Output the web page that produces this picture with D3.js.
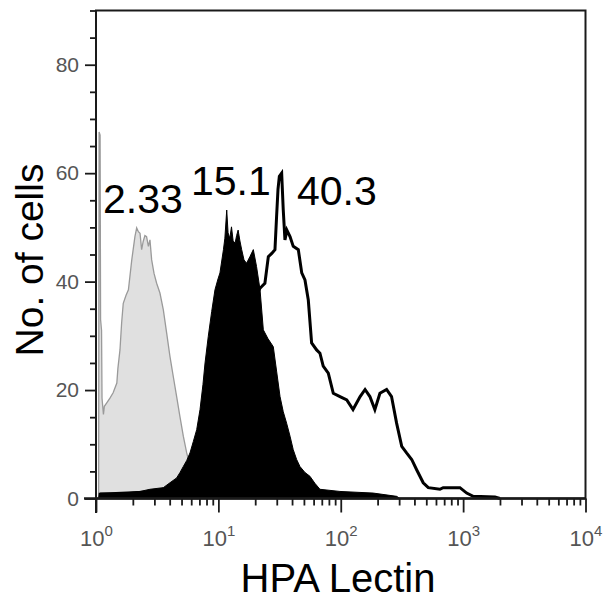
<!DOCTYPE html>
<html><head><meta charset="utf-8">
<script src="https://cdn.jsdelivr.net/npm/d3@7"></script>
<style>body{margin:0;background:#fff}svg{display:block}</style>
</head><body><svg id="c" width="610" height="601"></svg>
<script>
// Isotype control (grey, MFI 2.33)
const controlIntensity = [1.05,1.06,1.08,1.09,1.11,1.12,1.15,1.17,1.22,1.30,1.38,1.48,1.51,1.57,1.62,1.67,1.76,1.84,1.96,2.08,2.15,2.22,2.29,2.36,2.43,2.51,2.59,2.68,2.76,2.85,2.98,3.13,3.33,3.55,3.78,4.02,4.28,4.56,4.86,5.17,5.51,5.86,6.44,7.08,8.5,10.9,18.1,46.4,288,303];
const controlCount     = [0,67.6,67,33,31,18.5,15.5,17,17.6,18.5,19.5,21.3,24,27.4,32.4,36.0,37.5,38.5,44.0,48.3,49.9,49.2,48.9,45.9,47.4,48.5,48.3,46.5,47.7,44.0,41.5,39.7,37.9,34.8,30.5,26.2,22.5,18.8,15,11.5,8.4,6,3.5,2,1,0.6,0.4,0.4,0.3,0];
// Filled black histogram (MFI 15.1)
const lowIntensity = [1.07,1.08,1.67,2.29,2.76,3.55,4.02,4.56,4.86,5.17,5.51,5.86,6.24,6.65,7.08,7.48,7.78,8.27,8.82,9.38,9.93,10.3,11.0,11.3,11.7,12.0,12.4,12.8,13.2,13.7,14.1,14.5,15.0,15.5,16.2,17.0,18.1,19.3,20.5,21.9,23.3,25.4,28.1,29.9,31.9,33.9,36.1,38.5,40.9,43.6,46.4,51.0,56.0,61.5,67.6,98.5,184,286,303];
const lowCount     = [0,1.0,1.0,1.3,1.7,2.0,2.9,3.8,4.8,5.9,7,8.4,10.5,12.7,16.4,21,25.0,29.9,34.5,38.5,40.5,41.6,45.9,48,53.2,49,48,50.1,47.5,47.1,48.5,49.5,47.5,45.9,44,43.4,44.6,45.9,42.8,38.5,31.1,29.5,28.0,23.5,18.8,16,13.9,11.5,9.0,7.2,5.9,4.8,4.1,2.8,1.7,1.3,1.0,0.4,0];
// Open outline histogram (MFI 40.3)
const highIntensity = [1.07,1.08,2.76,4.02,5.86,7.08,8.5,10.3,12.4,15.0,18.1,20.5,21.9,22.6,24.0,25.6,27.3,29.0,29.9,30.7,31.5,32.9,33.9,35.0,36.3,38.5,40.9,45.0,48.0,51.0,54.3,57.8,63.5,67.6,71.9,79.1,86.9,98.5,112,126,144,158,173,190,209,237,260,286,315,345,380,417,472,519,646,687,942,1069,1208,1820,2000];
const highCount     = [0,0.8,1.2,2.0,4,6,9,14,20,27,34,37.5,38.8,39.1,39.7,44.6,45.2,45.9,52.0,57,59.4,60.0,53.2,47.7,49.5,48.3,46.5,45.9,41.6,40.3,36.6,28.7,27.4,26.8,24.4,23.1,19.4,18.8,18.2,16.4,18.8,20.1,18.8,16.4,19.4,20.1,18.8,13.9,9.6,8.4,7.2,5.3,2.9,2.0,1.7,2.0,2.0,1.0,0.4,0.3,0];

const yMajorTicks = [0,20,40,60,80];
const yMinorTicks = [5,10,15,25,30,35,45,50,55,65,70,75,85,90];
const xMajorExponents = [0,1,2,3,4];
const annotations = ["2.33","15.1","40.3"];
const xTitle = "HPA Lectin";
const yTitle = "No. of cells";

const svg = d3.select("#c");
const x = d3.scaleLog().domain([1,10000]).range([96,585.5]);
const y = d3.scaleLinear().domain([0,90]).range([498.5,10.5]);

const xMinor = [];
for (let e=0;e<4;e++) for (let m=2;m<=9;m++) xMinor.push(m*Math.pow(10,e));
const xMajor = xMajorExponents.map(e=>Math.pow(10,e));

const area = d3.area().x(d=>x(d[0])).y0(y(0)).y1(d=>y(d[1]));
const line = d3.line().x(d=>x(d[0])).y(d=>y(d[1]));
const zip = (a,b)=>a.map((v,i)=>[v,b[i]]);

const plot = svg.append("g");
plot.append("path").datum(zip(controlIntensity,controlCount))
  .attr("d",area).attr("fill","#e0e0e0").attr("stroke","#9a9a9a").attr("stroke-width",1.3);
plot.append("path").datum(zip(highIntensity,highCount))
  .attr("d",line).attr("fill","none").attr("stroke","#000").attr("stroke-width",3).attr("stroke-linejoin","miter");
plot.append("path").datum(zip(lowIntensity,lowCount))
  .attr("d",area).attr("fill","#000").attr("stroke","#000").attr("stroke-width",1);

// frame
svg.append("rect").attr("x",x(1)).attr("y",y(90)).attr("width",x(10000)-x(1)).attr("height",y(0)-y(90))
  .attr("fill","none").attr("stroke","#1a1a1a").attr("stroke-width",2);

const tickColor = "#1a1a1a";
const font = "Liberation Sans, Arial, Helvetica, sans-serif";
// y axis
const gyMin = svg.append("g").attr("transform",`translate(${x(1)},0)`)
  .call(d3.axisLeft(y).tickValues(yMinorTicks).tickSize(6).tickFormat(""));
const gyMaj = svg.append("g").attr("transform",`translate(${x(1)},0)`)
  .call(d3.axisLeft(y).tickValues(yMajorTicks).tickSize(11).tickPadding(6).tickFormat(d3.format("d")));
[gyMin,gyMaj].forEach(g=>{g.select(".domain").attr("stroke",tickColor).attr("stroke-width",2).attr("d",`M0,${y(90)}V513`);
  g.selectAll(".tick line").attr("stroke",tickColor).attr("stroke-width",1.8);});
gyMaj.selectAll(".tick text").attr("font-family",font).attr("font-size",21).attr("fill","#555");

// x axis
const gxMin = svg.append("g").attr("transform",`translate(0,${y(0)})`)
  .call(d3.axisBottom(x).tickValues(xMinor).tickSize(7).tickFormat(""));
const gxMaj = svg.append("g").attr("transform",`translate(0,${y(0)})`)
  .call(d3.axisBottom(x).tickValues(xMajor).tickSize(14).tickFormat(""));
[gxMin,gxMaj].forEach(g=>{g.select(".domain").attr("stroke",tickColor).attr("stroke-width",2).attr("d",`M84,0H${x(10000)}`);
  g.selectAll(".tick line").attr("stroke",tickColor).attr("stroke-width",1.8);});
gxMaj.selectAll(".tick").each(function(d,i){
  const t = d3.select(this).append("text").attr("y",47).attr("text-anchor","middle")
    .attr("font-family",font).attr("font-size",22).attr("fill","#555");
  t.append("tspan").text("10");
  t.append("tspan").attr("dy",-10).attr("font-size",15).text(xMajorExponents[i]);
});

// titles
svg.append("text").attr("x",338).attr("y",592).attr("text-anchor","middle")
  .attr("font-family",font).attr("font-size",40).attr("fill","#000").text(xTitle);
svg.append("text").attr("transform","translate(43,260) rotate(-90)").attr("text-anchor","middle")
  .attr("font-family",font).attr("font-size",39).attr("fill","#000").text(yTitle);

// annotations
const annPos = [[103,213],[191,195],[297,205]];
annotations.forEach((s,i)=>{
  svg.append("text").attr("x",annPos[i][0]).attr("y",annPos[i][1])
    .attr("font-family",font).attr("font-size",41).attr("fill","#000").text(s);
});
</script></body></html>
